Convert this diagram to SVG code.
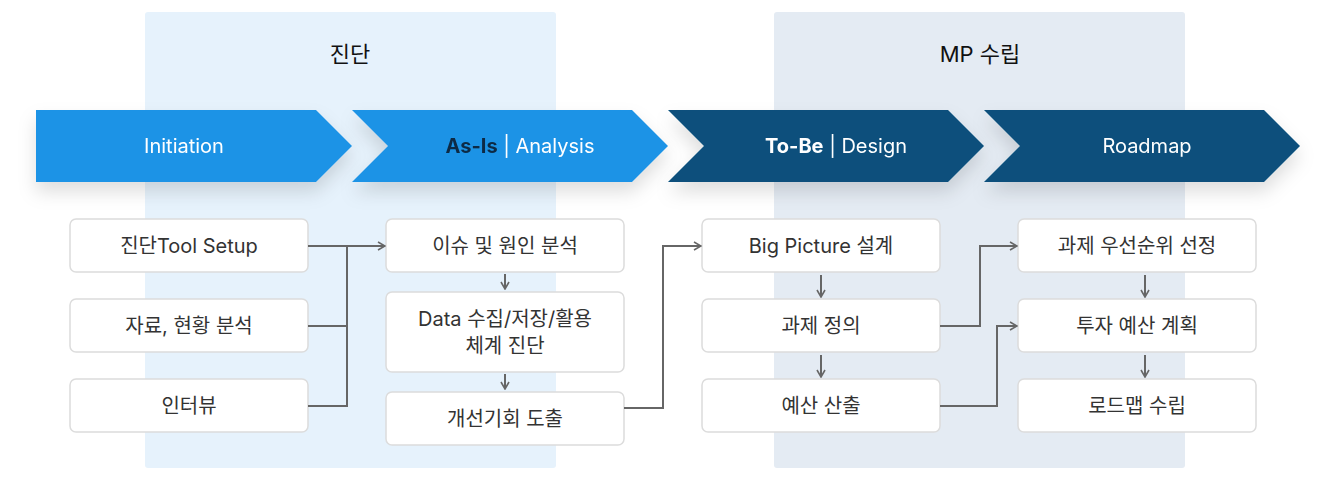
<svg xmlns="http://www.w3.org/2000/svg" width="1336" height="480" viewBox="0 0 1336 480">
<defs>
<marker id="ah" viewBox="0 0 10 10" refX="9" refY="5" markerWidth="10" markerHeight="10" markerUnits="userSpaceOnUse" orient="auto"><path d="M2,1 L9,5 L2,9" fill="none" stroke="#666" stroke-width="1.6"/></marker>
<filter id="sh" x="-10%" y="-40%" width="120%" height="190%"><feDropShadow dx="0" dy="10" stdDeviation="9" flood-color="#000" flood-opacity="0.13"/></filter>
<style>
.t{font-family:Inter,"Noto Sans CJK KR",sans-serif;font-size:20px;fill:#333;text-anchor:middle}
.w{font-family:Inter,"Noto Sans CJK KR",sans-serif;font-size:20px;fill:#fff;text-anchor:middle}
.h{font-family:Inter,"Noto Sans CJK KR",sans-serif;font-size:22px;fill:#111;text-anchor:middle}
.b rect{fill:#fff;stroke:#dcdcdc;stroke-width:1.5}
.c{fill:none;stroke:#666;stroke-width:2}
</style>
</defs>
<rect x="145" y="12" width="411" height="456" rx="3" fill="#e6f2fc"/>
<rect x="774" y="12" width="411" height="456" rx="3" fill="#e4ebf3"/>
<text class="h" x="350" y="62">진단</text>
<text class="h" x="980" y="62">MP 수립</text>
<g id="phase1" filter="url(#sh)"><path d="M36,110 H316 L352,146 L316,182 H36 Z" fill="#1e93e6"/><text class="w" x="184" y="153">Initiation</text></g>
<g id="phase2" filter="url(#sh)"><path d="M352,110 H632 L668,146 L632,182 H352 L388,146 Z" fill="#1e93e6"/><text class="w" x="520" y="153"><tspan font-weight="700" fill="#0b2a45">As-Is</tspan> | Analysis</text></g>
<g id="phase3" filter="url(#sh)"><path d="M668,110 H948 L984,146 L948,182 H668 L704,146 Z" fill="#0b4f7c"/><text class="w" x="836" y="153"><tspan font-weight="700">To-Be</tspan> | Design</text></g>
<g id="phase4" filter="url(#sh)"><path d="M984,110 H1264 L1300,146 L1264,182 H984 L1020,146 Z" fill="#0b4f7c"/><text class="w" x="1147" y="153">Roadmap</text></g>
<g id="n1" class="b"><rect x="70" y="219" width="238" height="53" rx="6"/><text class="t" x="189" y="253">진단Tool Setup</text></g>
<g id="n2" class="b"><rect x="70" y="299" width="238" height="53" rx="6"/><text class="t" x="189" y="333">자료, 현황 분석</text></g>
<g id="n3" class="b"><rect x="70" y="379" width="238" height="53" rx="6"/><text class="t" x="189" y="413">인터뷰</text></g>
<g id="n4" class="b"><rect x="386" y="219" width="238" height="53" rx="6"/><text class="t" x="505" y="253">이슈 및 원인 분석</text></g>
<g id="n5" class="b"><rect x="386" y="292" width="238" height="80" rx="6"/><text class="t" x="505" y="326">Data 수집/저장/활용</text><text class="t" x="505" y="353">체계 진단</text></g>
<g id="n6" class="b"><rect x="386" y="392" width="238" height="53" rx="6"/><text class="t" x="505" y="426">개선기회 도출</text></g>
<g id="n7" class="b"><rect x="702" y="219" width="238" height="53" rx="6"/><text class="t" x="821" y="253">Big Picture 설계</text></g>
<g id="n8" class="b"><rect x="702" y="299" width="238" height="53" rx="6"/><text class="t" x="821" y="333">과제 정의</text></g>
<g id="n9" class="b"><rect x="702" y="379" width="238" height="53" rx="6"/><text class="t" x="821" y="413">예산 산출</text></g>
<g id="n10" class="b"><rect x="1018" y="219" width="238" height="53" rx="6"/><text class="t" x="1137" y="253">과제 우선순위 선정</text></g>
<g id="n11" class="b"><rect x="1018" y="299" width="238" height="53" rx="6"/><text class="t" x="1137" y="333">투자 예산 계획</text></g>
<g id="n12" class="b"><rect x="1018" y="379" width="238" height="53" rx="6"/><text class="t" x="1137" y="413">로드맵 수립</text></g>
<g id="connectors">
<path class="c" d="M308,246 H347 V406 H308 M308,326 H347"/>
<path class="c" d="M347,246 H385" marker-end="url(#ah)"/>
<path class="c" d="M505,274 V289" marker-end="url(#ah)"/>
<path class="c" d="M505,374 V389" marker-end="url(#ah)"/>
<path class="c" d="M624,408 H663 V246 H701" marker-end="url(#ah)"/>
<path class="c" d="M821,275 V297" marker-end="url(#ah)"/>
<path class="c" d="M821,355 V377" marker-end="url(#ah)"/>
<path class="c" d="M940,326 H980 V246 H1017" marker-end="url(#ah)"/>
<path class="c" d="M940,406 H997 V326 H1017" marker-end="url(#ah)"/>
<path class="c" d="M1145,275 V297" marker-end="url(#ah)"/>
<path class="c" d="M1145,355 V377" marker-end="url(#ah)"/>
</g>
</svg>
